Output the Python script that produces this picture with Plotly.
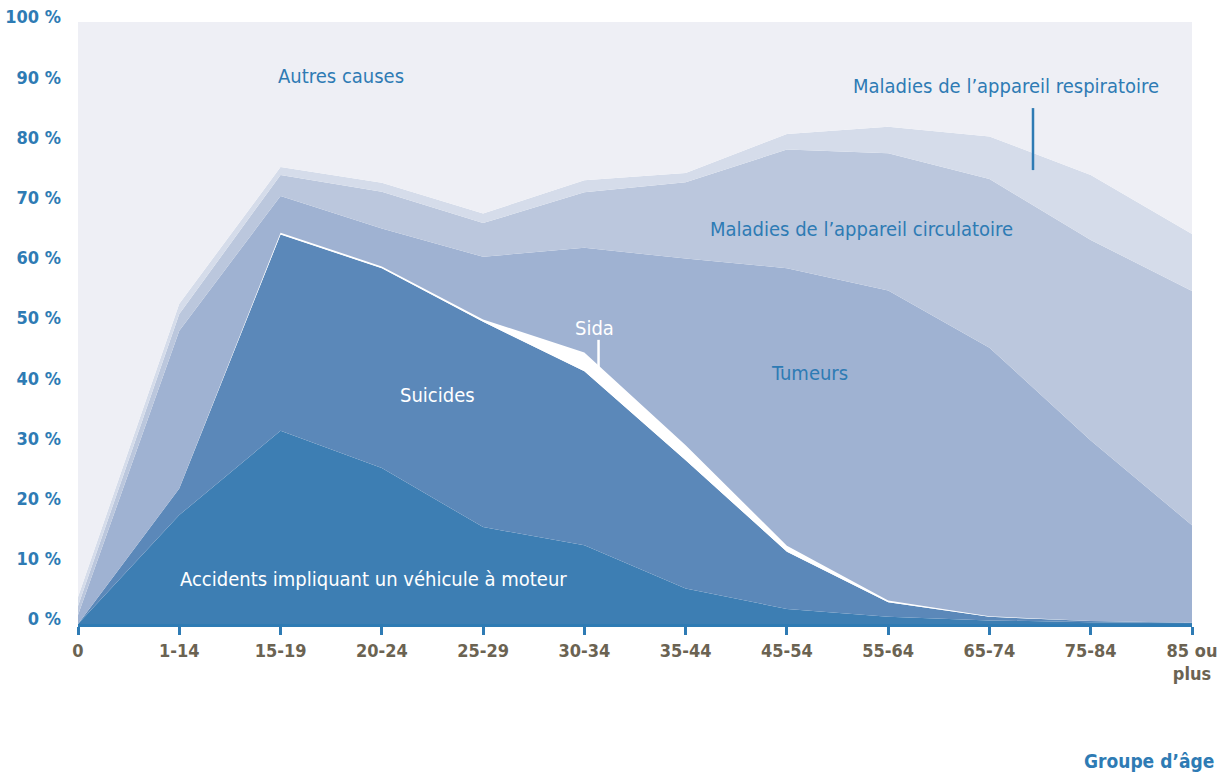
import plotly.graph_objects as go

# age groups (x axis)
age_groups = ["0", "1-14", "15-19", "20-24", "25-29", "30-34", "35-44",
              "45-54", "55-64", "65-74", "75-84", "85 ou<br>plus"]

# share of deaths by cause, %
accidents = [0, 18.1, 32.1, 25.9, 16.1, 13.1, 5.9, 2.5, 1.2, 0.6, 0.3, 0.2]
suicides = [0, 4.4, 32.6, 33.2, 34.1, 28.9, 21.3, 9.5, 2.4, 0.6, 0.2, 0.0]
sida = [0, 0, 0.3, 0.3, 0.4, 3.1, 2.5, 1.0, 0.3, 0.1, 0, 0]
tumeurs = [1.5, 26.2, 6.1, 6.3, 10.4, 17.4, 31.0, 46.1, 51.5, 44.6, 30.0, 16.2]
circulatoire = [1.5, 2.8, 3.5, 6.1, 5.6, 9.2, 12.7, 19.7, 22.8, 28.0, 33.3, 38.9]
respiratoire = [1.5, 1.7, 1.3, 1.5, 1.6, 2.0, 1.5, 2.6, 4.4, 7.1, 10.8, 9.5]
autres = [95.5, 46.8, 24.1, 26.7, 31.8, 26.3, 25.1, 18.6, 17.4, 19.0, 25.4, 35.2]

y_ticks = list(range(0, 101, 10))
y_ticktext = [f"{v} %" for v in y_ticks]

FONT = "DejaVu Sans Condensed, Liberation Sans Narrow, Arial Narrow, sans-serif"
BLUE = "#2e7bb4"

layers = [
    ("Accidents", accidents, "#3d7eb3"),
    ("Suicides", suicides, "#5b88b9"),
    ("Sida", sida, "#ffffff"),
    ("Tumeurs", tumeurs, "#9fb2d2"),
    ("Circulatoire", circulatoire, "#bbc7dd"),
    ("Respiratoire", respiratoire, "#d5dcea"),
    ("Autres causes", autres, "#eeeff5"),
]

xs = list(range(len(age_groups)))

fig = go.Figure()
for name, vals, col in layers:
    fig.add_trace(go.Scatter(
        x=xs, y=vals, name=name,
        mode="lines", stackgroup="one",
        line=dict(width=0, color=col),
        fillcolor=col,
        hoverinfo="skip",
    ))

# labels on the areas
labels = [
    ("Autres causes", 2.6, 91.0, BLUE),
    ("Maladies de l’appareil respiratoire", 9.16, 89.4, BLUE),
    ("Maladies de l’appareil circulatoire", 7.74, 65.6, BLUE),
    ("Tumeurs", 7.22, 41.7, BLUE),
    ("Suicides", 3.55, 38.0, "white"),
    ("Sida", 5.10, 49.2, "white"),
    ("Accidents impliquant un véhicule à moteur", 2.92, 7.5, "white"),
]
for txt, x, y, col in labels:
    fig.add_annotation(x=x, y=y, text=txt, showarrow=False,
                       font=dict(family=FONT, size=20, color=col))

# leader lines
fig.add_shape(type="line", x0=9.43, x1=9.43, y0=75.4, y1=85.7,
              line=dict(color=BLUE, width=2.5))
fig.add_shape(type="line", x0=5.14, x1=5.14, y0=42.7, y1=47.2,
              line=dict(color="white", width=2.5))

fig.add_annotation(x=1.0215, y=-0.2276, xref="paper", yref="paper",
                   text="<b>Groupe d’âge</b>", showarrow=False,
                   xanchor="right", yanchor="middle",
                   font=dict(family=FONT, size=19, color=BLUE))

fig.update_xaxes(
    range=[0, 11], tickvals=xs, ticktext=[f"<b>{t}</b>" for t in age_groups],
    showgrid=False, zeroline=False, automargin=False,
    showline=True, linecolor=BLUE, linewidth=3,
    ticks="outside", tickcolor=BLUE, tickwidth=3, ticklen=8,
    tickfont=dict(family=FONT, size=18, color="#6b6352"),
)
fig.update_yaxes(
    range=[0, 100], tickvals=y_ticks, ticktext=[f"<b>{t}</b>" for t in y_ticktext],
    showgrid=False, zeroline=False, showline=False, automargin=False,
    ticklabelstandoff=16, ticklabelshift=-5,
    tickfont=dict(family=FONT, size=18, color=BLUE),
)

fig.update_layout(
    width=1228, height=776,
    margin=dict(l=78, r=36, t=22, b=152, autoexpand=False),
    paper_bgcolor="white", plot_bgcolor="white",
    showlegend=False,
)

# drop the default page margin so the figure sits at the window's corner
fig.write_html("out.html", config={"displayModeBar": False},
               post_script="document.body.style.margin='0';")
